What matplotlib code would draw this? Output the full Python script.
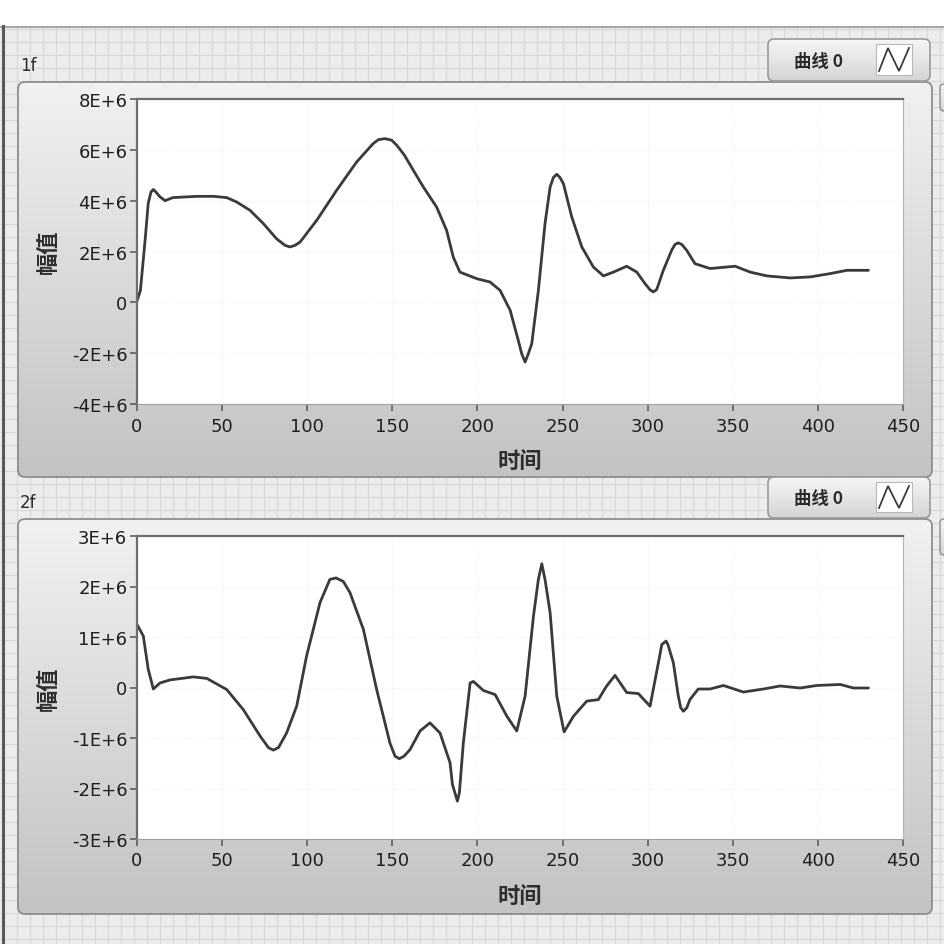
import numpy as np
import matplotlib
matplotlib.use("Agg")
import matplotlib.pyplot as plt
from matplotlib.patches import FancyBboxPatch, Rectangle
from matplotlib.collections import LineCollection

# ---------------- data ----------------
time_1f = [0, 2, 4.7, 6.6, 8.2, 9.6, 11.1, 13.5, 16.5, 21, 35, 45, 52.7, 58.5, 66.4,
           74.2, 82, 87, 89.9, 92.8, 95.8, 105.6, 117.3, 129, 138.8, 141.8, 145.7, 149.6,
           152.6, 157, 162.3, 168.2, 176, 181.9, 185.8, 189.7, 199.6, 207.4, 213.3, 219.2,
           224, 226, 228, 229.9, 231.9, 235.8, 239.7, 242.7, 244.6, 246.6, 248.5, 250.5,
           255.4, 261.3, 268.1, 274, 279.9, 287.7, 293.6, 298.4, 301.3, 303.3, 305.3,
           309.2, 314.1, 316.1, 318, 320, 322.9, 327.8, 336.7, 351.4, 360.2, 370, 383.7,
           395.4, 407.2, 417, 429.7]
amp_1f_e6 = [0.05, 0.47, 2.4, 3.9, 4.34, 4.44, 4.34, 4.15, 4.0, 4.12, 4.17, 4.17, 4.12,
             3.95, 3.62, 3.1, 2.5, 2.24, 2.18, 2.24, 2.37, 3.23, 4.41, 5.52, 6.25, 6.4,
             6.44, 6.38, 6.18, 5.8, 5.2, 4.54, 3.75, 2.83, 1.78, 1.19, 0.93, 0.8, 0.47,
             -0.31, -1.5, -2.02, -2.35, -2.02, -1.63, 0.47, 3.1, 4.54, 4.91, 5.04, 4.91,
             4.67, 3.36, 2.18, 1.39, 1.04, 1.19, 1.42, 1.19, 0.74, 0.5, 0.41, 0.5, 1.26,
             2.05, 2.28, 2.34, 2.28, 2.05, 1.52, 1.33, 1.42, 1.19, 1.04, 0.96, 1.0, 1.13,
             1.26, 1.26]

time_2f = [0, 3.7, 6.6, 9.6, 13.5, 19.4, 33.1, 41, 52.7, 62.5, 72.3, 77.2, 80.1, 83.1,
           87.9, 93.8, 99.6, 107.5, 113.3, 116.9, 121.2, 125.1, 133, 140.8, 148.6, 151.6,
           154.1, 156.9, 160.4, 166.3, 172.1, 178, 183.9, 185.3, 188.2, 189.4, 191.7,
           195.7, 197.6, 203.5, 210.4, 217.3, 223.1, 228, 232.9, 235.8, 237.8, 239.7,
           242.7, 246.6, 250.9, 256.4, 264.2, 271, 275.9, 280.8, 287.7, 294.5, 301.4,
           306.3, 308.3, 310.8, 311.9, 315.1, 318, 319.4, 321, 323, 324.8, 329.7, 336.7,
           344.5, 356.2, 368, 377.8, 389.6, 399.4, 413.1, 420.9, 429.7]
amp_2f_e6 = [1.25, 1.02, 0.36, -0.03, 0.09, 0.15, 0.21, 0.18, -0.04, -0.44, -0.96, -1.19,
             -1.24, -1.19, -0.9, -0.37, 0.62, 1.68, 2.14, 2.17, 2.1, 1.88, 1.15, -0.04,
             -1.1, -1.36, -1.41, -1.36, -1.23, -0.86, -0.7, -0.9, -1.49, -1.92, -2.25,
             -2.08, -1.1, 0.09, 0.12, -0.06, -0.14, -0.57, -0.86, -0.17, 1.41, 2.14, 2.45,
             2.14, 1.48, -0.17, -0.88, -0.57, -0.27, -0.24, 0.03, 0.24, -0.1, -0.12, -0.37,
             0.49, 0.85, 0.92, 0.85, 0.49, -0.17, -0.4, -0.47, -0.4, -0.24, -0.03, -0.03,
             0.04, -0.09, -0.03, 0.03, -0.01, 0.04, 0.06, -0.01, -0.01]

x_ticks = [0, 50, 100, 150, 200, 250, 300, 350, 400, 450]
y_ticks_1f = [-4e6, -2e6, 0, 2e6, 4e6, 6e6, 8e6]
y_labels_1f = ["-4E+6", "-2E+6", "0", "2E+6", "4E+6", "6E+6", "8E+6"]
y_ticks_2f = [-3e6, -2e6, -1e6, 0, 1e6, 2e6, 3e6]
y_labels_2f = ["-3E+6", "-2E+6", "-1E+6", "0", "1E+6", "2E+6", "3E+6"]
graph_names = ["1f", "2f"]
legend_label = "曲线 0"
x_title = "时间"
y_title = "幅值"

FONTS = ["DejaVu Sans", "Noto Sans CJK SC"]
CJK = ["Noto Sans CJK SC", "DejaVu Sans"]
plt.rcParams["font.family"] = FONTS

W = 945
fig = plt.figure(figsize=(9.45, 9.45), dpi=100)
fig.patch.set_facecolor("white")
bg = fig.add_axes([0, 0, 1, 1])
bg.axis("off")


def hexrgb(h):
    h = h.lstrip("#")
    return np.array([int(h[i:i + 2], 16) / 255 for i in (0, 2, 4)])


def gradient_box(x0, y0, x1, y1, top, bottom, edge, r=6, lw=1.2, z=1):
    patch = FancyBboxPatch((x0, y0), x1 - x0, y1 - y0,
                           boxstyle=f"round,pad=0,rounding_size={r}",
                           facecolor="none", edgecolor=edge, linewidth=lw, zorder=z + 0.1)
    bg.add_patch(patch)
    n = 64
    t = np.linspace(0, 1, n)[:, None]
    arr = (1 - t) * hexrgb(top) + t * hexrgb(bottom)
    im = bg.imshow(arr[:, None, :], extent=(x0, x1, y1, y0), origin="upper",
                   aspect="auto", interpolation="bilinear", zorder=z)
    im.set_clip_path(patch)
    return patch


# panel background with grid
bg.add_patch(Rectangle((0, 27), W, W - 27, facecolor="#ececec", edgecolor="none", zorder=0))
segs = [[(x, 27), (x, W)] for x in np.arange(4, W, 13)]
segs += [[(0, y), (W, y)] for y in np.arange(30, W, 13)]
bg.add_collection(LineCollection(segs, colors="#d7d7d7", linewidths=0.8, zorder=0.2))
bg.plot([0, W], [27.5, 27.5], color="#9a9a9a", lw=1.2, zorder=0.3)
bg.plot([3, 3], [27, W], color="#5a5a5a", lw=2.2, zorder=0.3)

# graph frames
frames = [(18, 83, 932, 478), (18, 520, 932, 915)]
for (x0, y0, x1, y1) in frames:
    gradient_box(x0, y0, x1, y1, "#f1f1f1", "#c3c3c3", "#8e8e8e", r=7, lw=1.3, z=1)

# partial controls at right edge
for (y0, y1) in [(85, 112), (520, 556)]:
    gradient_box(940, y0, 960, y1, "#f4f4f4", "#d6d6d6", "#8e8e8e", r=4, lw=1.0, z=1)

# legends
for (y0, y1) in [(40, 82), (478, 519)]:
    gradient_box(768, y0, 930, y1, "#f6f6f6", "#d4d4d4", "#9a9a9a", r=6, lw=1.2, z=2)
    bg.add_patch(Rectangle((876, y0 + 5), 36, y1 - y0 - 11, facecolor="white",
                           edgecolor="#b8b8b8", lw=0.8, zorder=3))
    yc_top, yc_bot = y0 + 9, y1 - 10
    bg.plot([879, 888, 899, 909], [yc_bot, yc_top, yc_bot, yc_top], color="#3c3c3c",
            lw=1.3, zorder=4, solid_joinstyle="miter")
    bg.text(818, (y0 + y1) / 2 + 1, legend_label, family=CJK, fontsize=12.5,
            fontweight="bold", ha="center", va="center", color="#2a2a2a", zorder=4)

# graph names
bg.text(20, 66, graph_names[0], fontsize=12, ha="left", va="center", color="#2a2a2a", zorder=4)
bg.text(20, 503, graph_names[1], fontsize=12, ha="left", va="center", color="#2a2a2a", zorder=4)

# axis titles
for xc, yc in [(520, 461), (520, 896)]:
    bg.text(xc, yc, x_title, family=CJK, fontsize=16, fontweight="bold", ha="center",
            va="center", color="#2e2e2e", zorder=4)
for xc, yc in [(48, 252), (48, 689)]:
    bg.text(xc, yc, y_title, family=CJK, fontsize=16, fontweight="bold", rotation=90,
            ha="center", va="center", color="#2e2e2e", zorder=4)

bg.set_xlim(0, W)
bg.set_ylim(W, 0)


def make_axes(top, bottom, t, v, yticks, ylabels):
    ax = fig.add_axes([137 / W, 1 - bottom / W, 766 / W, (bottom - top) / W])
    ax.set_facecolor("white")
    ax.plot(t, np.asarray(v) * 1e6, color="#3a3a3a", lw=2.0, solid_capstyle="round",
            solid_joinstyle="round")
    ax.set_xlim(0, 450)
    ax.set_ylim(yticks[0], yticks[-1])
    ax.set_xticks(x_ticks)
    ax.set_xticklabels([str(x) for x in x_ticks])
    ax.set_yticks(yticks)
    ax.set_yticklabels(ylabels)
    ax.grid(True, color="#efefef", lw=0.8, ls=":")
    ax.tick_params(axis="both", direction="out", length=5, width=1.1, colors="#555555",
                   labelcolor="#1f1f1f", labelsize=13)
    ax.tick_params(axis="y", pad=2)
    ax.tick_params(axis="x", pad=4)
    for s in ("top", "left"):
        ax.spines[s].set_color("#6e6e6e")
        ax.spines[s].set_linewidth(1.6)
    ax.spines["right"].set_color("#b5b5b5")
    ax.spines["bottom"].set_color("#a0a0a0")
    ax.set_zorder(5)
    return ax


make_axes(100, 405, time_1f, amp_1f_e6, y_ticks_1f, y_labels_1f)
make_axes(537, 840, time_2f, amp_2f_e6, y_ticks_2f, y_labels_2f)

fig.savefig("out.png", dpi=100)
